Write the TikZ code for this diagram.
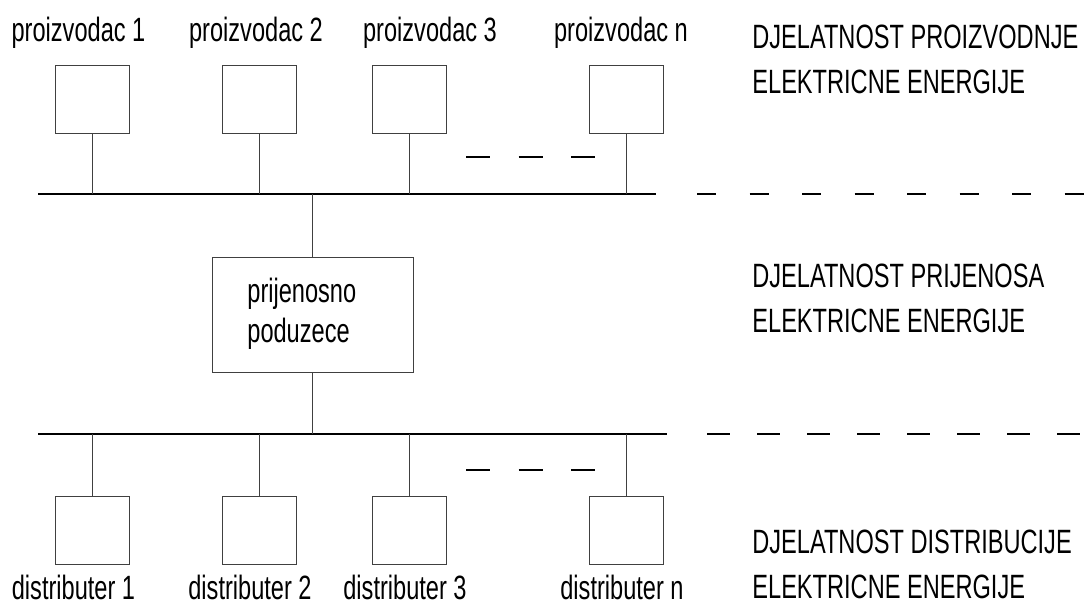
\documentclass[tikz,border=0pt]{standalone}
\usepackage{fontspec}
\setmainfont{Liberation Sans}[FakeStretch=0.7]
\usetikzlibrary{calc}

\tikzset{
  unit/.style={draw=black!75, line width=0.5pt, minimum width=37pt, minimum height=34pt, inner sep=0pt},
  bus/.style={line width=0.8pt},
  stem/.style={line width=0.5pt, black!75},
  gap/.style={line width=0.7pt},
  lbl/.style={inner sep=0pt, font=\fontsize{16.85}{22.5}\selectfont},
  sect/.style={lbl, anchor=base west, align=left}
}

\begin{document}
\begin{tikzpicture}[x=0.5pt,y=-0.5pt]
    \useasboundingbox (0,0) rectangle (1089,605);

    % sabirnice
    \coordinate (tbL) at (38,194);
    \coordinate (tbR) at (656,194);
    \coordinate (bbL) at (38,434);
    \coordinate (bbR) at (667,434);
    \draw[bus] (tbL) -- (tbR);
    \draw[bus] (bbL) -- (bbR);

    % proizvodaci
    \foreach \i/\x/\t in {1/92/78.5,2/259.5/256,3/409/430,n/626/621}{
      \node[unit] (p\i) at (\x,99) {};
      \node[lbl, anchor=base] (pl\i) at (\t,41) {proizvodac \i};
      \draw[stem] (p\i) -- (p\i |- tbL);
    }

    % distributeri
    \foreach \i/\x/\t in {1/92/73.5,2/259.5/250,3/409/405,n/626/622}{
      \node[unit] (d\i) at (\x,530) {};
      \node[lbl, anchor=base] (dl\i) at (\t,599) {distributer \i};
      \draw[stem] (d\i) -- (d\i |- bbL);
    }

    % prijenos
    \node[draw=black!75, line width=0.5pt, minimum width=100.5pt, minimum height=57.5pt, inner sep=0pt] (tr) at (312.5,314.5) {};
    \node[lbl, anchor=base west, align=left, font=\fontsize{16.85}{20}\selectfont] (trl) at (247,342) {prijenosno\\poduzece};
    \draw[stem] (tr) -- (tr |- tbL);
    \draw[stem] (tr) -- (tr |- bbL);

    % isprekidano
    \coordinate (tg1) at (466,157);
    \coordinate (tg2) at (595,157);
    \coordinate (bg1) at (466,470);
    \coordinate (bg2) at (595,470);
    \draw[gap, dash pattern=on 12pt off 14.25pt] (tg1) -- (tg2);
    \draw[gap, dash pattern=on 12pt off 14.25pt] (bg1) -- (bg2);
    \coordinate (tr1) at (697,194);
    \coordinate (tr2) at (1089,194);
    \coordinate (br1) at (707,434);
    \coordinate (br2) at (1089,434);
    \draw[gap, dash pattern=on 9.5pt off 16.75pt] (tr1) -- (tr2);
    \draw[gap, dash pattern=on 11.5pt off 13.5pt] (br1) -- (br2);

    % djelatnosti
    \node[sect] (s1) at (752,93) {DJELATNOST PROIZVODNJE\\ELEKTRICNE ENERGIJE};
    \node[sect] (s2) at (752,332) {DJELATNOST PRIJENOSA\\ELEKTRICNE ENERGIJE};
    \node[sect] (s3) at (752,598) {DJELATNOST DISTRIBUCIJE\\ELEKTRICNE ENERGIJE};

\end{tikzpicture}
\end{document}
